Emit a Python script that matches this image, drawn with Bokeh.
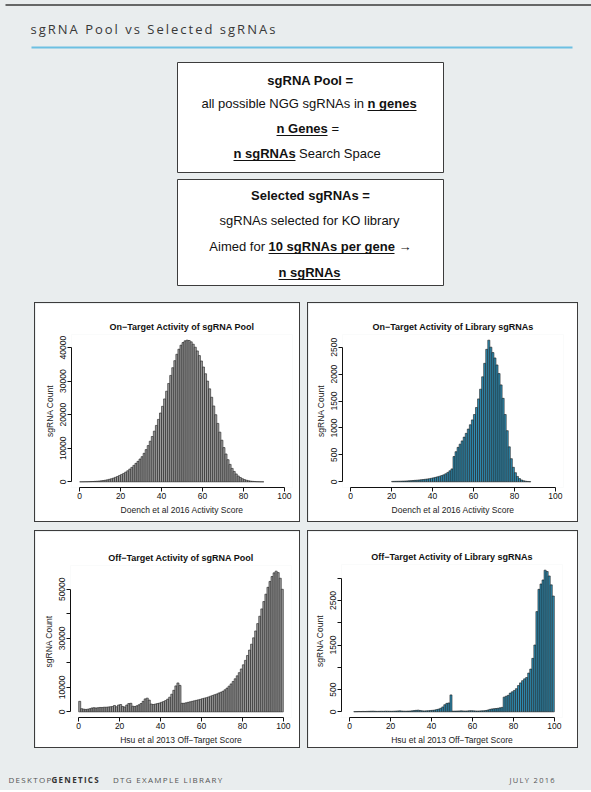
from bokeh.plotting import figure
from bokeh.layouts import column, row, Spacer
from bokeh.models import FixedTicker, Range1d
from bokeh.core.properties import value
from bokeh.embed import file_html
from bokeh.resources import INLINE

# ---------------- data ----------------
x_ticks = [0, 20, 40, 60, 80, 100]

pool_on_bins = list(range(0, 90))
pool_on_counts = [10, 20, 30, 40, 60, 80, 100, 140, 180, 230,
                  300, 380, 480, 600, 750, 920, 1120, 1350, 1600, 1900,
                  2200, 2500, 2900, 3300, 3800, 4300, 4900, 5500, 6100, 6800,
                  7500, 8500, 9600, 10800, 12100, 13500, 15100, 16800, 18600, 20500,
                  22500, 24700, 27000, 29300, 31700, 34000, 36100, 38000, 39500, 40700,
                  41500, 42000, 42200, 42100, 41700, 41000, 40100, 39000, 37600, 36000,
                  34200, 32200, 30000, 27700, 25200, 22600, 20000, 17400, 14800, 12400,
                  10200, 8300, 6600, 5200, 4000, 3100, 2350, 1750, 1300, 950,
                  680, 480, 330, 220, 150, 100, 60, 40, 20, 10]
pool_on_yticks = [0, 10000, 20000, 30000, 40000]
pool_on_ylabels = ["0", "10000", "20000", "30000", "40000"]

lib_on_bins = list(range(20, 88))
lib_on_counts = [8, 9, 10, 11, 12, 14, 15, 17, 19, 22,
                 25, 28, 31, 35, 39, 43, 48, 53, 59, 66,
                 74, 83, 93, 104, 116, 130, 150, 175, 205, 240,
                 470, 560, 640, 700, 760, 830, 900, 980, 1060, 1150,
                 1250, 1380, 1540, 1720, 1950, 2200, 2460, 2630, 2500, 2400,
                 2300, 2170, 2010, 1800, 1550, 1250, 950, 650, 430, 270,
                 170, 100, 60, 35, 20, 12, 7, 4]
lib_on_yticks = [0, 500, 1000, 1500, 2000, 2500]
lib_on_ylabels = ["0", "500", "1000", "1500", "2000", "2500"]

pool_off_bins = list(range(0, 100))
pool_off_counts = [4300, 1300, 1100, 1000, 1100, 1300, 1600, 1700, 1600, 1700,
                   1800, 1800, 1900, 1900, 2000, 2100, 2200, 2600, 2100, 2800,
                   3000, 2200, 2000, 2800, 3400, 3500, 2300, 2200, 2500, 2900,
                   3400, 4300, 5300, 5600, 4800, 3200, 3000, 3200, 3400, 3600,
                   3900, 4200, 4600, 5200, 6000, 7200, 8800, 10600, 11800, 10800,
                   3500, 3500, 3700, 3900, 4100, 4300, 4500, 4700, 4900, 5100,
                   5400, 5600, 5800, 6100, 6400, 6700, 7000, 7300, 7700, 8000,
                   8400, 9000, 9700, 10500, 11400, 12400, 13500, 14700, 16000, 17500,
                   19200, 21000, 23000, 25200, 27600, 30200, 33000, 36000, 39000, 42000,
                   45000, 48000, 50800, 53200, 55200, 56700, 57400, 56800, 54500, 50000]
pool_off_yticks = [0, 10000, 20000, 30000, 40000, 50000]
pool_off_ylabels = ["0", "10000", "", "30000", "", "50000"]

lib_off_bins = list(range(2, 100))
lib_off_counts = [5, 6, 8, 7, 9, 8, 10, 12,
                  14, 15, 12, 10, 11, 13, 12, 15, 14, 13,
                  12, 14, 16, 20, 22, 18, 15, 14, 16, 18,
                  22, 28, 34, 38, 30, 22, 20, 22, 26, 30,
                  34, 40, 50, 62, 80, 110, 160, 190, 200, 380,
                  15, 16, 18, 20, 22, 20, 18, 20, 24, 26,
                  22, 20, 18, 20, 22, 24, 30, 40, 55, 65,
                  70, 75, 80, 90, 100, 330, 350, 370, 420, 450,
                  480, 520, 590, 650, 700, 740, 770, 870, 960, 1200,
                  1500, 2250, 2750, 2870, 2960, 3180, 3150, 3050, 2850, 2600]
lib_off_yticks = [0, 500, 1000, 1500, 2000, 2500, 3000]
lib_off_ylabels = ["0", "500", "", "1500", "", "2500", ""]

# ---------------- style ----------------
BG = "#e9edee"
DARK = "#3c3c3c"
GRAY_FILL = "#9c9c9c"
BLUE_FILL = "#2f8db3"
FONT = "Liberation Sans"
W = 591


def hist_panel(title, xlabel, bins, counts, yticks, ylabels, fill, w, h, lb, rb, tb, bb):
    ymax = max(counts)
    p = figure(width=w, height=h, output_backend="svg", toolbar_location=None,
               x_range=Range1d(-4, 104), y_range=Range1d(-0.04 * ymax, 1.04 * ymax),
               min_border_left=lb, min_border_right=rb, min_border_top=tb, min_border_bottom=bb,
               background_fill_color="white", border_fill_color="white",
               outline_line_color=None, title=title)
    rights = [b + 1 for b in bins]
    p.quad(left=bins, right=rights, bottom=0, top=counts,
           fill_color=fill, line_color="#1c1c1c", line_width=0.6)
    p.title.align = "center"
    p.title.text_font = FONT
    p.title.text_font_size = "9px"
    p.title.text_font_style = "bold"
    p.title.text_color = "#111111"
    p.title.standoff = 6
    p.xgrid.visible = False
    p.ygrid.visible = False
    for ax in (p.xaxis[0], p.yaxis[0]):
        ax.major_tick_in = 0
        ax.major_tick_out = 4
        ax.minor_tick_line_color = None
        ax.axis_line_color = "#111111"
        ax.major_tick_line_color = "#111111"
        ax.major_label_text_font = FONT
        ax.major_label_text_font_size = "8.5px"
        ax.major_label_text_color = "#111111"
        ax.axis_label_text_font = FONT
        ax.axis_label_text_font_size = "8.5px"
        ax.axis_label_text_font_style = "normal"
        ax.axis_label_text_color = "#222222"
        ax.major_label_standoff = 1
        ax.axis_label_standoff = 3
    p.xaxis.ticker = FixedTicker(ticks=x_ticks)
    p.xaxis.bounds = (x_ticks[0], x_ticks[-1])
    p.xaxis.axis_label = xlabel
    p.yaxis.ticker = FixedTicker(ticks=yticks)
    p.yaxis.bounds = (yticks[0], yticks[-1])
    p.yaxis.major_label_overrides = {t: lab for t, lab in zip(yticks, ylabels)}
    p.yaxis.major_label_orientation = "vertical"
    p.yaxis.axis_label = "sgRNA Count"
    return p


def framed(fig, w, h):
    dark = {"background-color": DARK}
    return column(
        Spacer(width=w + 2, height=1, styles=dark),
        row(Spacer(width=1, height=h, styles=dark), fig, Spacer(width=1, height=h, styles=dark)),
        Spacer(width=w + 2, height=1, styles=dark),
    )


def deco_fig(w, h, x0, x1, y0, y1, styles=None):
    f = figure(width=w, height=h, output_backend="svg", toolbar_location=None,
               x_range=Range1d(x0, x1), y_range=Range1d(y1, y0),
               min_border=0, min_border_left=0, min_border_right=0,
               min_border_top=0, min_border_bottom=0,
               background_fill_color=BG, border_fill_color=BG, outline_line_color=None,
               styles=styles or {})
    f.axis.visible = False
    f.grid.visible = False
    return f


# ---------------- page title ----------------
ttl = deco_fig(W, 55, 0, W, 0, 55, styles={"letter-spacing": "2px"})
ttl.segment(x0=[5], y0=[4.5], x1=[W], y1=[4.5], line_color="#3a3a3a", line_width=1.5)
ttl.text(x=[30], y=[28], text=["sgRNA Pool vs Selected sgRNAs"],
         text_font=value("Open Sans"), text_font_size=value("13px"),
         text_color="#383838", text_baseline="middle", text_align="left")
ttl.segment(x0=[31], y0=[47], x1=[572], y1=[47], line_color="#6cc0e2", line_width=2)

# ---------------- definition boxes ----------------
hdr = deco_fig(W, 247, 0, W, 55, 302)
hdr.quad(left=[177, 177], right=[443, 443], top=[62, 179], bottom=[172, 285],
         fill_color="white", line_color=DARK, line_width=1)

TS = value("13px")
TF = value(FONT)
hdr.text(x=[310, 310, 309], y=[80, 195, 272],
         text=["sgRNA Pool =", "Selected sgRNAs =", "n sgRNAs"],
         text_font=TF, text_font_size=TS, text_font_style="bold",
         text_color="#111111", text_align="center", text_baseline="middle")
hdr.text(x=[309], y=[220], text=["sgRNAs selected for KO library"],
         text_font=TF, text_font_size=TS, text_color="#111111",
         text_align="center", text_baseline="middle")
hdr.text(x=[363.5, 264.5], y=[103, 246], text=["all possible NGG sgRNAs in", "Aimed for"],
         text_font=TF, text_font_size=TS, text_color="#111111",
         text_align="right", text_baseline="middle")
hdr.text(x=[367, 276, 233, 268], y=[103, 128, 153, 246],
         text=["n genes", "n Genes", "n sgRNAs", "10 sgRNAs per gene"],
         text_font=TF, text_font_size=TS, text_font_style="bold",
         text_color="#111111", text_align="left", text_baseline="middle")
hdr.text(x=[331, 298.5, 398], y=[128, 153, 246], text=["=", "Search Space", "\u2192"],
         text_font=TF, text_font_size=TS, text_color="#111111",
         text_align="left", text_baseline="middle")
hdr.segment(x0=[367, 276, 233, 268, 278], y0=[110, 135, 160, 253, 279],
            x1=[416, 327, 295, 394, 340], y1=[110, 135, 160, 253, 279],
            line_color="#111111", line_width=1.2)

# ---------------- histograms ----------------
p1 = hist_panel("On\u2212Target Activity of sgRNA Pool", "Doench et al 2016 Activity Score",
                pool_on_bins, pool_on_counts, pool_on_yticks, pool_on_ylabels, GRAY_FILL,
                264, 218, 36, 7, 31, 34)
p2 = hist_panel("On\u2212Target Activity of Library sgRNAs", "Doench et al 2016 Activity Score",
                lib_on_bins, lib_on_counts, lib_on_yticks, lib_on_ylabels, BLUE_FILL,
                269, 218, 34, 14, 31, 34)
p3 = hist_panel("Off\u2212Target Activity of sgRNA Pool", "Hsu et al 2013 Off\u2212Target Score",
                pool_off_bins, pool_off_counts, pool_off_yticks, pool_off_ylabels, GRAY_FILL,
                264, 216, 35, 8, 34, 29)
p4 = hist_panel("Off\u2212Target Activity of Library sgRNAs", "Hsu et al 2013 Off\u2212Target Score",
                lib_off_bins, lib_off_counts, lib_off_yticks, lib_off_ylabels, BLUE_FILL,
                269, 216, 33, 15, 33, 30)

row1 = row(Spacer(width=34, height=220), framed(p1, 264, 218),
           Spacer(width=7, height=220), framed(p2, 269, 218),
           Spacer(width=13, height=220))
gap = Spacer(width=W, height=8)
row2 = row(Spacer(width=34, height=218), framed(p3, 264, 216),
           Spacer(width=7, height=218), framed(p4, 269, 216),
           Spacer(width=13, height=218))

# ---------------- footer ----------------
ftr = deco_fig(W, 42, 0, W, 748, 790, styles={"letter-spacing": "1.3px"})
ftr.text(x=[8, 112.5], y=[779, 779], text=["DESKTOP", "DTG EXAMPLE LIBRARY"],
         text_font=value("Open Sans"), text_font_size=value("8px"),
         text_color="#555555", text_align="left", text_baseline="middle")
ftr.text(x=[51], y=[779], text=["GENETICS"],
         text_font=value("Open Sans"), text_font_size=value("8px"), text_font_style="bold",
         text_color="#333333", text_align="left", text_baseline="middle")
ftr.text(x=[509], y=[779], text=["JULY 2016"],
         text_font=value("Open Sans"), text_font_size=value("7.5px"),
         text_color="#555555", text_align="left", text_baseline="middle")

page = column(ttl, hdr, row1, gap, row2, ftr, styles={"background-color": BG})

open("out.html", "w").write(file_html(page, INLINE))
